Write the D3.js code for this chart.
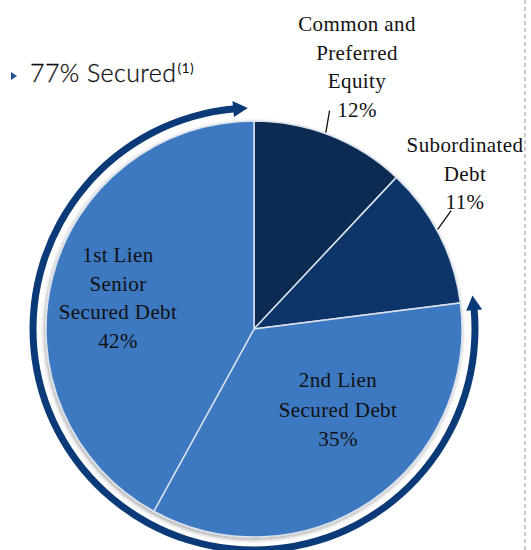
<!DOCTYPE html>
<html>
<head>
<meta charset="utf-8">
<script src="https://cdn.jsdelivr.net/npm/d3@7"></script>
<style>
  body { margin: 0; background: #fff; }
  svg { display: block; }
  .lbl { font-family: "Liberation Serif", serif; font-size: 21px; fill: #111; letter-spacing: 0.4px; }
</style>
</head>
<body>
<svg id="chart" width="531" height="550"></svg>
<script>
// data
var categories = ["Common and Preferred Equity", "Subordinated Debt", "2nd Lien Secured Debt", "1st Lien Senior Secured Debt"];
var values = [12, 11, 35, 42];
var labelLines = [
  ["Common and", "Preferred", "Equity", "12%"],
  ["Subordinated", "Debt", "11%"],
  ["2nd Lien", "Secured Debt", "35%"],
  ["1st Lien", "Senior", "Secured Debt", "42%"]
];
var colors = ["#0c2a53", "#0b3469", "#3d79c0", "#3d79c0"];
var securedTitle = "77% Secured";
var securedNote = "(1)";
var securedKeys = [2, 3]; // slices covered by the arrow

var svg = d3.select("#chart");
var cx = 254, cy = 329, r = 208;
var rad = Math.PI / 180;

var defs = svg.append("defs");
var f = defs.append("filter").attr("id", "shadow")
  .attr("x", "-10%").attr("y", "-10%").attr("width", "120%").attr("height", "120%");
f.append("feDropShadow").attr("dx", -1).attr("dy", 2).attr("stdDeviation", 2)
  .attr("flood-color", "#000").attr("flood-opacity", 0.35);

// right dashed border
svg.append("line")
  .attr("x1", 525).attr("x2", 525).attr("y1", 0).attr("y2", 550)
  .attr("stroke", "#b8b8b8").attr("stroke-width", 1.5).attr("stroke-dasharray", "4,3");

var pie = d3.pie().sort(null).value(function(d) { return d; });
var arcs = pie(values);
var arc = d3.arc().innerRadius(0).outerRadius(r);

var g = svg.append("g").attr("transform", "translate(" + cx + "," + cy + ")");

g.append("g").attr("filter", "url(#shadow)")
  .selectAll("path")
  .data(arcs)
  .enter().append("path")
    .attr("d", arc)
    .attr("fill", function(d, i) { return colors[i]; })
    .attr("stroke", "#d9e1ec")
    .attr("stroke-width", 1.5);

// secured arrow arc
var secStart = arcs[securedKeys[0]].startAngle;
var secEnd = arcs[securedKeys[securedKeys.length - 1]].endAngle;
var ra = 221, headLen = 3.8 * rad, headW = 8;
var tipA = secStart - 1.5 * rad, tipB = secEnd - 1.6 * rad;
var bodyA = tipA + headLen, bodyB = tipB - headLen;

g.append("path")
  .attr("d", d3.arc().innerRadius(ra - 3.5).outerRadius(ra + 3.5).startAngle(bodyA - 0.5 * rad).endAngle(bodyB + 0.5 * rad)())
  .attr("fill", "#0b3a78");

function pt(a, rr) { return [rr * Math.sin(a), -rr * Math.cos(a)]; }
function head(tip, base) {
  return [pt(tip, ra), pt(base, ra - headW), pt(base, ra + headW)];
}
g.selectAll(".head")
  .data([head(tipA, bodyA), head(tipB, bodyB)])
  .enter().append("path")
    .attr("class", "head")
    .attr("d", function(d) { return "M" + d.join("L") + "Z"; })
    .attr("fill", "#0b3a78");

// leader lines for outer labels
var leaders = [
  { i: 0, da: -2.5 * rad, len: 23 },
  { i: 1, da: -4 * rad, len: 22 }
];
g.selectAll(".leader")
  .data(leaders)
  .enter().append("line")
    .attr("class", "leader")
    .attr("x1", function(d) { var m = (arcs[d.i].startAngle + arcs[d.i].endAngle) / 2; return pt(m - 1.5 * rad, r + 1)[0]; })
    .attr("y1", function(d) { var m = (arcs[d.i].startAngle + arcs[d.i].endAngle) / 2; return pt(m - 1.5 * rad, r + 1)[1]; })
    .attr("x2", function(d) { var m = (arcs[d.i].startAngle + arcs[d.i].endAngle) / 2; return pt(m + d.da, r + d.len)[0]; })
    .attr("y2", function(d) { var m = (arcs[d.i].startAngle + arcs[d.i].endAngle) / 2; return pt(m + d.da, r + d.len)[1]; })
    .attr("stroke", "#111").attr("stroke-width", 1.3);

// labels: x centre and first baseline (page coords), line height
var labelLayout = [
  { x: 357, y: 31, lh: 28.7 },
  { x: 465, y: 152, lh: 28.7 },
  { x: 338, y: 387, lh: 29.5 },
  { x: 118, y: 262, lh: 28.5 }
];
labelLines.forEach(function(lines, i) {
  var t = svg.append("text").attr("class", "lbl").attr("text-anchor", "middle");
  lines.forEach(function(s, j) {
    t.append("tspan").attr("x", labelLayout[i].x).attr("y", labelLayout[i].y + j * labelLayout[i].lh).text(s);
  });
});

// bullet title
svg.append("path").attr("d", "M11,72L17,76L11,80Z").attr("fill", "#1f4e8c");
var tt = svg.append("text")
  .attr("x", 30).attr("y", 82)
  .style("font-family", "Lato, sans-serif").style("font-size", "25px").style("font-weight", 300)
  .style("letter-spacing", "0.4px").style("fill", "#111").style("stroke", "#111").style("stroke-width", 0.3)
  .text(securedTitle);
tt.append("tspan").attr("dy", -9).attr("dx", 1).style("font-size", "14px").style("font-weight", 400)
  .style("stroke-width", 0).text(securedNote);
</script>
</body>
</html>
